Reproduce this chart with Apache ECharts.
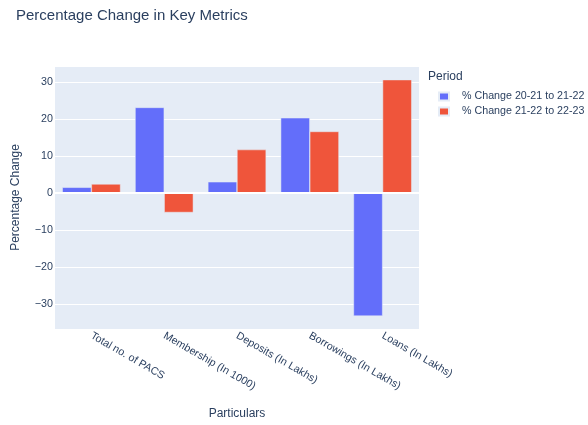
<!DOCTYPE html>
<html>
<head>
<meta charset="utf-8">
<script src="https://cdn.jsdelivr.net/npm/echarts@6/dist/echarts.min.js"></script>
<style>html,body{margin:0;padding:0;background:#fff;}#chart{width:588px;height:425px;}</style>
</head>
<body>
<div id="chart"></div>
<script>
var categories = ['Total no. of PACS', 'Membership (In 1000)', 'Deposits (In Lakhs)', 'Borrowings (In Lakhs)', 'Loans (In Lakhs)'];
var seriesNames = ['% Change 20-21 to 21-22', '% Change 21-22 to 22-23'];
var change2021to2122 = [1.6, 23.2, 3.1, 20.4, -33.2];
var change2122to2223 = [2.5, -5.2, 11.8, 16.7, 30.7];
var yMin = -36.7, yMax = 34.4;

var FONT = '"Liberation Sans", Arial, sans-serif';
var TXT = '#2a3f5f';
var chart = echarts.init(document.getElementById('chart'), null, {renderer: 'canvas'});
chart.setOption({
  backgroundColor: '#fff',
  animation: false,
  textStyle: {fontFamily: FONT, color: TXT},
  title: [
    {text: 'Percentage Change in Key Metrics', left: 16, top: 8, padding: 0,
     textStyle: {fontFamily: FONT, fontSize: 15, fontWeight: 'normal', color: TXT}},
    {text: 'Period', left: 428, top: 71, padding: 0,
     textStyle: {fontFamily: FONT, fontSize: 12, fontWeight: 'normal', color: TXT}}
  ],
  legend: {
    orient: 'vertical', left: 438, top: 91, padding: 0,
    itemWidth: 10, itemHeight: 8, itemGap: 4,
    icon: 'rect',
    data: seriesNames,
    textStyle: {fontFamily: FONT, fontSize: 10.7, color: TXT, padding: [0, 0, 0, 8]}
  },
  grid: {left: 55, right: 169, top: 66, bottom: 93, show: true, backgroundColor: '#E5ECF6', borderWidth: 0, containLabel: false},
  xAxis: {
    type: 'category', data: categories,
    name: 'Particulars', nameLocation: 'middle', nameGap: 79,
    nameTextStyle: {fontFamily: FONT, fontSize: 12, color: TXT},
    axisLine: {show: false}, axisTick: {show: false},
    axisLabel: {rotate: -30, margin: 6, fontFamily: FONT, fontSize: 10.7, color: TXT, interval: 0},
    splitLine: {show: false}
  },
  yAxis: {
    type: 'value', min: yMin, max: yMax, splitNumber: 7,
    name: 'Percentage Change', nameLocation: 'middle', nameGap: 33,
    nameTextStyle: {fontFamily: FONT, fontSize: 12, color: TXT},
    axisLine: {show: false}, axisTick: {show: false},
    axisLabel: {showMinLabel: false, showMaxLabel: false, margin: 2, fontFamily: FONT, fontSize: 10.7, color: TXT,
      formatter: function (v) { return String(v).replace('-', '\u2212'); }},
    splitLine: {show: true, lineStyle: {color: '#fff', width: 1}}
  },
  series: [
    {name: seriesNames[0], type: 'bar', data: change2021to2122, barGap: '0%', barCategoryGap: '20%',
     itemStyle: {color: '#636EFA', borderColor: '#E5ECF6', borderWidth: 0.5},
     markLine: {silent: true, symbol: 'none', label: {show: false}, lineStyle: {color: '#fff', width: 2, type: 'solid'}, data: [{yAxis: 0}]},
     z: 3},
    {name: seriesNames[1], type: 'bar', data: change2122to2223, barGap: '0%', barCategoryGap: '20%',
     itemStyle: {color: '#EF553B', borderColor: '#E5ECF6', borderWidth: 0.5}, z: 3}
  ]
});
</script>
</body>
</html>
